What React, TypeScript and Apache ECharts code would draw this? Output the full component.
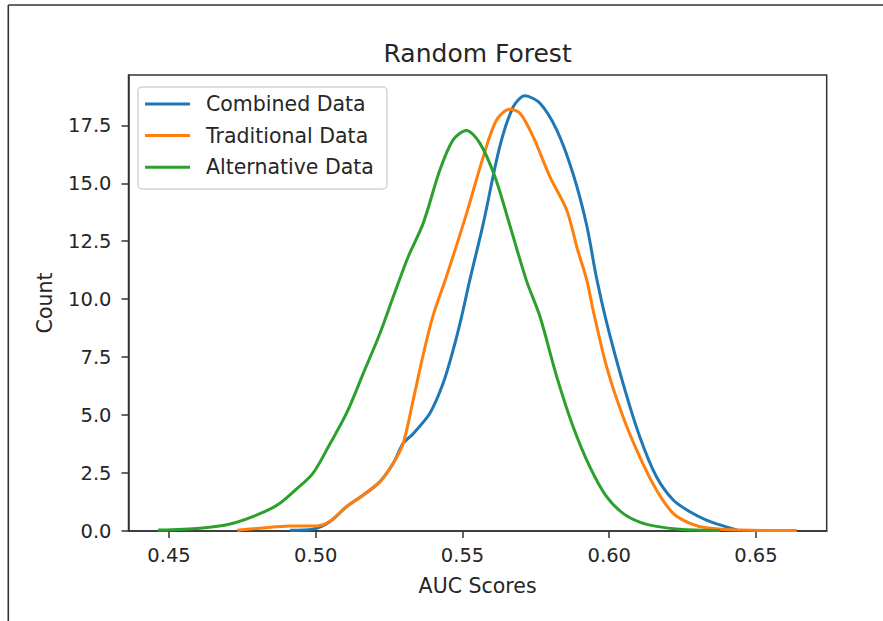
import React, { useEffect, useRef } from "react";
import * as echarts from "echarts";

// AUC score grid (x) and density (y) for each series
const combinedX = [0.4912, 0.4990, 0.5048, 0.5105, 0.5162, 0.5219, 0.5264, 0.5298, 0.5332, 0.5389, 0.5434, 0.5468, 0.5497, 0.5525, 0.5571, 0.5627, 0.5673, 0.5713, 0.5764, 0.5821, 0.5877, 0.5923, 0.5957, 0.5991, 0.6047, 0.6104, 0.6161, 0.6218, 0.6275, 0.6331, 0.6388, 0.6435];
const combinedY = [0.03, 0.08, 0.4, 1.05, 1.55, 2.13, 2.92, 3.78, 4.2, 5.08, 6.37, 7.8, 9.25, 10.83, 13.27, 16.58, 18.3, 18.77, 18.45, 17.3, 15.4, 13.2, 10.9, 9.0, 6.37, 4.07, 2.34, 1.34, 0.83, 0.47, 0.22, 0.05];

const traditionalX = [0.4732, 0.4810, 0.4912, 0.5003, 0.5048, 0.5105, 0.5162, 0.5219, 0.5264, 0.5298, 0.5332, 0.5366, 0.5400, 0.5446, 0.5514, 0.5571, 0.5616, 0.5661, 0.5696, 0.5741, 0.5798, 0.5855, 0.5893, 0.5924, 0.5945, 0.5991, 0.6047, 0.6104, 0.6161, 0.6218, 0.6275, 0.6331, 0.6445, 0.6639];
const traditionalY = [0.03, 0.12, 0.22, 0.22, 0.42, 1.05, 1.55, 2.13, 2.92, 3.78, 5.65, 7.6, 9.3, 11.0, 13.7, 16.15, 17.73, 18.19, 18.02, 17.0, 15.28, 13.85, 12.1, 10.8, 9.53, 7.09, 4.93, 3.2, 1.77, 0.76, 0.33, 0.14, 0.04, 0.02];

const alternativeX = [0.4463, 0.4606, 0.4708, 0.4820, 0.4878, 0.4929, 0.4991, 0.5048, 0.5105, 0.5162, 0.5219, 0.5264, 0.5314, 0.5366, 0.5423, 0.5468, 0.5513, 0.5559, 0.5610, 0.5661, 0.5718, 0.5764, 0.5821, 0.5877, 0.5934, 0.5991, 0.6047, 0.6104, 0.6161, 0.6240, 0.6377];
const alternativeY = [0.04, 0.12, 0.3, 0.8, 1.2, 1.75, 2.5, 3.75, 5.08, 6.8, 8.53, 10.1, 11.8, 13.27, 15.57, 16.87, 17.28, 16.73, 15.3, 13.2, 10.8, 9.25, 6.66, 4.5, 2.77, 1.48, 0.76, 0.38, 0.2, 0.08, 0.02];

const seriesNames = ["Combined Data", "Traditional Data", "Alternative Data"];
const seriesColors = ["#1f77b4", "#ff7f0e", "#2ca02c"];
const xTicks = [0.45, 0.5, 0.55, 0.6, 0.65];
const yTicks = [0, 2.5, 5, 7.5, 10, 12.5, 15, 17.5];

const FONT = "DejaVu Sans";
const TEXT = "#262626";
const SPINE = "#333333";

const zip = (xs: number[], ys: number[]) => xs.map((x, i) => [x, ys[i]]);

export default function App() {
  const ref = useRef<HTMLDivElement>(null);
  useEffect(() => {
    if (!ref.current) return;
    const chart = echarts.init(ref.current, null, { renderer: "svg" });
    const datasets = [zip(combinedX, combinedY), zip(traditionalX, traditionalY), zip(alternativeX, alternativeY)];
    chart.setOption({
      animation: false,
      backgroundColor: "#ffffff",
      title: {
        text: "Random Forest",
        left: 477.6,
        top: 41,
        padding: 0,
        textAlign: "center",
        textStyle: { fontFamily: FONT, fontSize: 25, fontWeight: "normal", color: TEXT },
      },
      legend: {
        orient: "vertical",
        left: 138,
        top: 87,
        padding: [6.5, 13, 11.3, 7],
        icon: "rect",
        itemWidth: 45,
        itemHeight: 3,
        itemGap: 10.6,
        backgroundColor: "rgba(255,255,255,0.8)",
        borderColor: "#d4d4d4",
        borderWidth: 1.5,
        borderRadius: 4,
        data: seriesNames,
        textStyle: { fontFamily: FONT, fontSize: 20.5, lineHeight: 20, color: TEXT, padding: [0, 0, 0, 11] },
      },
      grid: {
        left: 128.5,
        right: 56.3,
        top: 75,
        bottom: 90,
        show: true,
        borderColor: SPINE,
        borderWidth: 1.5,
        backgroundColor: "transparent",
      },
      xAxis: {
        type: "value",
        min: 0.4362,
        max: 0.6741,
        name: "AUC Scores",
        nameLocation: "middle",
        nameGap: 44,
        nameTextStyle: { fontFamily: FONT, fontSize: 20.5, color: TEXT },
        axisLine: { show: true, onZero: false, lineStyle: { color: SPINE, width: 1.5 } },
        axisTick: { show: true, inside: false, length: 7, lineStyle: { color: SPINE, width: 1.5 }, customValues: xTicks },
        axisLabel: {
          show: true,
          margin: 14,
          customValues: xTicks,
          fontFamily: FONT,
          fontSize: 19.5,
          color: TEXT,
          formatter: (v: number) => v.toFixed(2),
        },
        splitLine: { show: false },
      },
      yAxis: {
        type: "value",
        min: 0,
        max: 19.67,
        name: "Count",
        nameLocation: "middle",
        nameGap: 73,
        nameTextStyle: { fontFamily: FONT, fontSize: 20.5, color: TEXT },
        axisLine: { show: true, onZero: false, lineStyle: { color: SPINE, width: 1.5 } },
        axisTick: { show: true, inside: false, length: 7, lineStyle: { color: SPINE, width: 1.5 }, customValues: yTicks },
        axisLabel: {
          show: true,
          margin: 17,
          customValues: yTicks,
          fontFamily: FONT,
          fontSize: 19.5,
          color: TEXT,
          formatter: (v: number) => v.toFixed(1),
        },
        splitLine: { show: false },
      },
      graphic: [
        { type: "line", silent: true, shape: { x1: 8.3, y1: 5, x2: 883, y2: 5 }, style: { stroke: "#333", lineWidth: 1.6 } },
        { type: "line", silent: true, shape: { x1: 8.3, y1: 5, x2: 8.3, y2: 621 }, style: { stroke: "#333", lineWidth: 1.6 } },
      ],
      series: seriesNames.map((name, i) => ({
        name,
        type: "line",
        data: datasets[i],
        symbol: "none",
        showSymbol: false,
        smooth: 0.3,
        clip: true,
        color: seriesColors[i],
        lineStyle: { color: seriesColors[i], width: 3 },
        emphasis: { disabled: true },
      })),
    });
    return () => chart.dispose();
  }, []);
  return <div ref={ref} style={{ position: "absolute", left: 0, top: 0, width: 883, height: 621 }} />;
}
